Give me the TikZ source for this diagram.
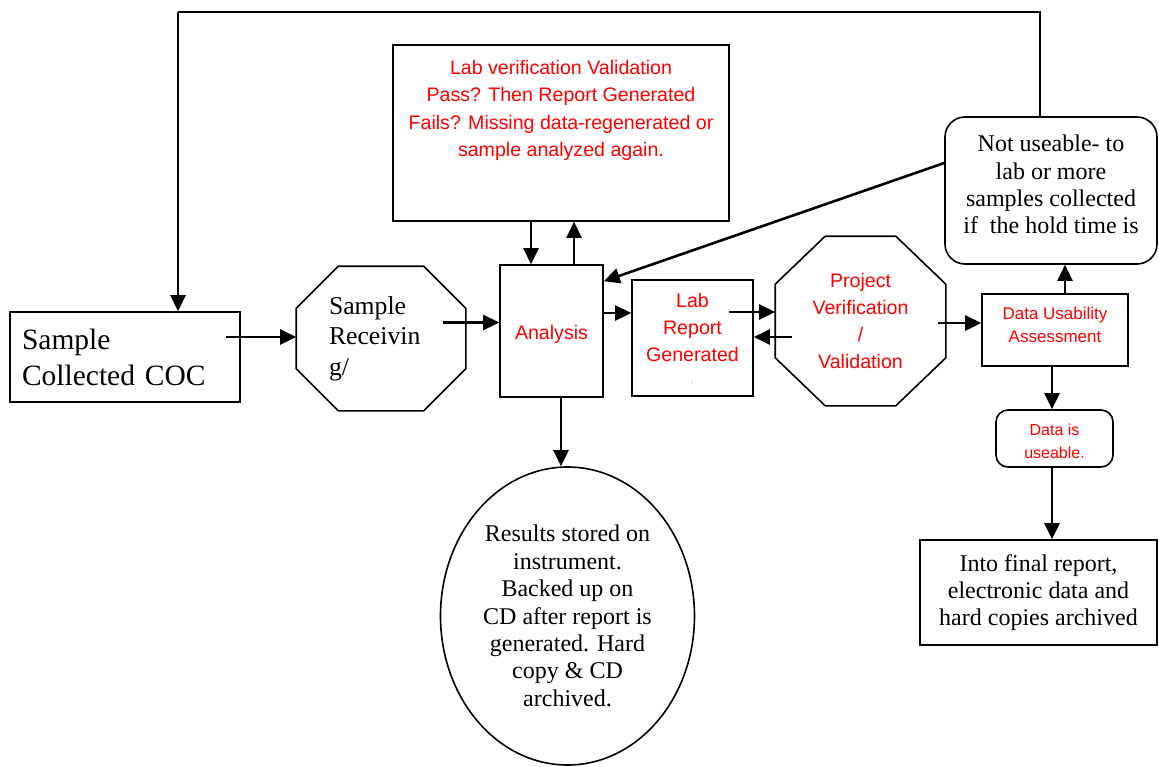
\documentclass[tikz,border=0pt]{standalone}
\usepackage{fontspec}
\setmainfont{Liberation Serif}
\newfontfamily\arialfont{Liberation Sans}
\usetikzlibrary{arrows.meta,shapes.geometric,calc}

% octagon round a node: name, horizontal cut, vertical cut
\newcommand{\octagon}[3]{%
  \draw ($(#1.north west)+(#2,0)$) -- ($(#1.north east)+(-#2,0)$) -- ($(#1.north east)+(0,#3)$)
     -- ($(#1.south east)+(0,-#3)$) -- ($(#1.south east)+(-#2,0)$) -- ($(#1.south west)+(#2,0)$)
     -- ($(#1.south west)+(0,-#3)$) -- ($(#1.north west)+(0,#3)$) -- cycle;}

\begin{document}
\begin{tikzpicture}[x=1pt, y=-1pt, >={Triangle[length=16pt,width=15pt]}, line width=1.6pt]
    \tikzset{box/.style={draw, rectangle, inner sep=0pt, align=center},
             octa/.style={rectangle, inner sep=0pt, align=center},
             rbox/.style={draw, rectangle, rounded corners=12pt, inner sep=0pt, align=center},
             serif/.style={font=\fontsize{24}{27.4}\selectfont},
             redtext/.style={text=red, font=\arialfont\fontsize{19.6}{27.3}\selectfont},
             flow/.style={->, line width=2.6pt}}
    \useasboundingbox (0,0) rectangle (1159,766);

    \node[box, minimum width=230, minimum height=90, text width=206, align=left, font=\fontsize{29.5}{36}\selectfont] (coc) at (125,357) {Sample\\Collected COC}; % start
    \node[octa, minimum width=168, minimum height=143, text width=104, align=left, font=\fontsize{25.7}{30.5}\selectfont] (recv) at (381,338.5) {Sample\\Receivin\\g/};
    \node[box, redtext, text height=22pt, minimum width=103, minimum height=132] (analysis) at (551.5,331) {Analysis};
    \node[box, minimum width=336, minimum height=176,
          label={[redtext, align=center, anchor=north, yshift=-12pt]north:{Lab verification Validation\\Pass? Then Report Generated\\Fails? Missing data-regenerated or\\sample analyzed again.}}] (labver) at (561,133) {};
    \node[box, redtext, minimum width=121, minimum height=116] (labrep) at (692.5,338) {Lab\\Report\\Generated\\[-6pt]{\fontsize{8}{8}\selectfont.}};
    \node[octa, redtext, minimum width=169, minimum height=168] (projver) at (860.5,321) {Project\\Verification\\/\\Validation};
    \node[box, redtext, font=\arialfont\fontsize{17}{23}\selectfont, text depth=10pt, minimum width=146, minimum height=72] (dua) at (1055,330) {Data Usability\\Assessment};
    \node[rbox, serif, rounded corners=20pt, text depth=12pt, minimum width=212, minimum height=147] (notuse) at (1051,190.5) {Not useable- to\\lab or more\\samples collected\\if\ \ the hold time is};
    \node[rbox, redtext, font=\arialfont\fontsize{16}{23}\selectfont, minimum width=117, minimum height=57] (useable) at (1054.5,438.5) {\rule{0pt}{17pt}Data is\\useable.};
    \node[box, serif, minimum width=237, minimum height=105] (final) at (1038.5,592.5) {Into final report,\\electronic data and\\hard copies archived};
    \node[draw, ellipse, serif, inner sep=0pt, minimum width=254, minimum height=298, align=center] (results) at (567.5,616) {Results stored on\\instrument.\\Backed up on\\CD after report is\\generated. Hard\\copy \& CD\\archived.};

    \octagon{recv}{42}{42}
    \octagon{projver}{50}{48}

    % feedback line over the top
    \coordinate (topL) at (178,12);
    \coordinate (topR) at (1040,12);
    \draw[line width=1.4pt] (topR |- notuse.north) -- (topR) -- (topL);
    \draw[flow] (topL) -- (topL |- coc.north);

    % edges
    \draw[flow] ([shift={(-15,-20)}]coc.east) coordinate (a) -- (a -| recv.west);
    \draw[flow] ([shift={(-23,-16)}]recv.east) coordinate (b) -- (b -| analysis.west);
    \draw[flow] ([xshift=-30pt]labver.south) coordinate (c) -- (c |- analysis.north);
    \draw[flow] ([xshift=22.5pt]analysis.north) coordinate (d) -- (d |- labver.south);
    \draw[flow] ([yshift=27.5pt]notuse.west) -- ([yshift=-17pt]analysis.north east);
    \draw[flow] ([yshift=18pt]analysis.east) coordinate (e) -- (e -| labrep.west);
    \draw[flow] ([shift={(-25,-26)}]labrep.east) coordinate (f) -- (f -| projver.west);
    \draw[flow] ([shift={(17,16)}]projver.west) coordinate (g) -- (g -| labrep.east);
    \draw[flow] ([shift={(-8,2)}]projver.east) coordinate (h) -- (h -| dua.west);
    \draw[flow] ([xshift=10pt]dua.north) coordinate (i) -- (i |- notuse.south);
    \draw[flow] ([xshift=-3pt]dua.south) coordinate (j) -- (j |- useable.north);
    \draw[flow] (j |- useable.south) -- (j |- final.north);
    \draw[flow] ([xshift=9.5pt]analysis.south) coordinate (k) -- (k |- results.north);
\end{tikzpicture}
\end{document}
